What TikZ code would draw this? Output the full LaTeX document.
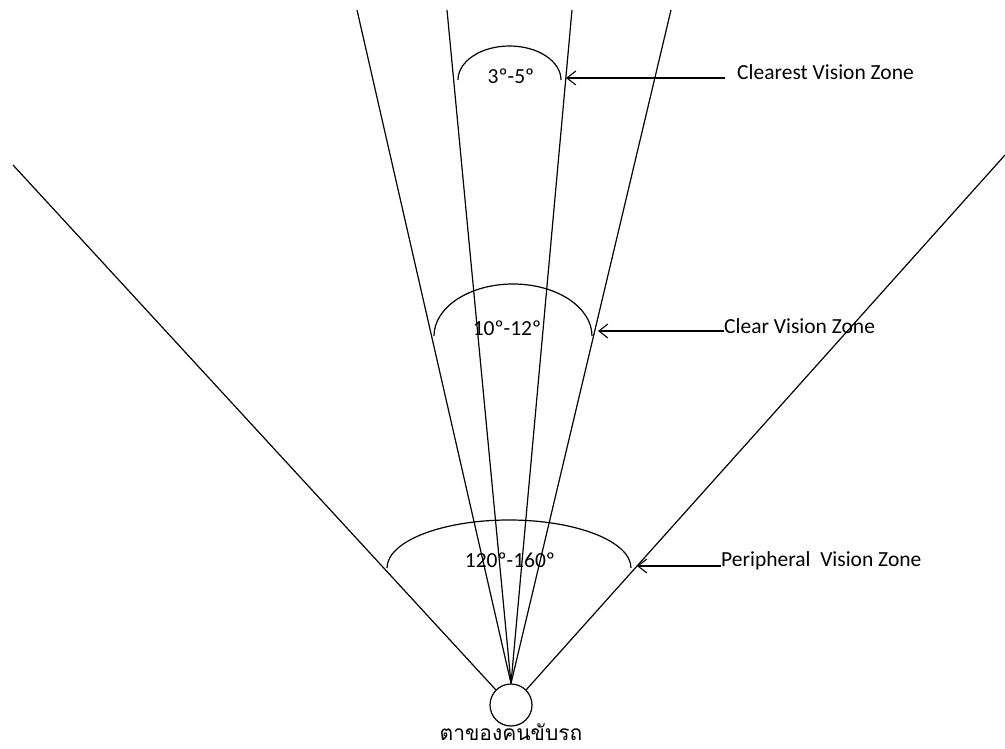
\documentclass[tikz,border=0pt]{standalone}
\usepackage{fontspec}
\setmainfont{Carlito}
\newfontfamily\thaifont[Script=Thai]{Loma}
\usetikzlibrary{arrows.meta}
\tikzset{
  ray/.style={line width=1.2pt},
  zonearc/.style={line width=1.2pt},
  pointer/.style={line width=1.1pt, -{Straight Barb[length=9pt,width=14pt,line width=1.1pt]}},
  zonetext/.style={font=\fontsize{21.5}{24}\selectfont, inner sep=0pt, anchor=west},
  angletext/.style={font=\fontsize{21.5}{24}\selectfont, inner sep=0pt},
}
\begin{document}
\begin{tikzpicture}[x=1pt,y=-1pt]
  \useasboundingbox (0,0) rectangle (1005,749);

  % the driver's eye
  \node[draw, circle, line width=1.2pt, minimum size=42pt, inner sep=0pt] (eye) at (511,705) {};
  \node[font=\thaifont\fontsize{21}{23}\selectfont, inner sep=0pt, anchor=north] (eyelabel) at (511,724) {ตาของคนขับรถ};

  % far ends of the sight lines
  \coordinate (farL) at (13,165);
  \coordinate (farR) at (1005,155);
  \coordinate (midL) at (357,10);
  \coordinate (inL) at (447,10);
  \coordinate (inR) at (572,10);
  \coordinate (midR) at (671,10);

  \draw[ray] (eye.north west) -- (farL);
  \draw[ray] (eye.north east) -- (farR);
  \draw[ray] (eye.north) -- (midL);
  \draw[ray] (eye.north) -- (inL);
  \draw[ray] (eye.north) -- (inR);
  \draw[ray] (eye.north) -- (midR);

  % angle arcs of the three zones
  \draw[zonearc] (458,80) arc[start angle=180, end angle=360, x radius=51.5, y radius=34];
  \draw[zonearc] (434,336) arc[start angle=180, end angle=360, x radius=79, y radius=52];
  \draw[zonearc] (387,568) arc[start angle=180, end angle=360, x radius=122, y radius=48];

  \node[angletext] (a1) at (511,76) {3º-5º};
  \node[angletext] (a2) at (507,328) {10º-12º};
  \node[angletext] (a3) at (510,560) {120º-160º};

  % zone labels with pointers
  \node[zonetext] (z1) at (737,72) {Clearest Vision Zone};
  \node[zonetext] (z2) at (724,326) {Clear Vision Zone};
  \node[zonetext] (z3) at (721,561) {Peripheral\ \ Vision Zone};

  \coordinate (p1) at (566,78);
  \coordinate (p2) at (598,331);
  \coordinate (p3) at (637,566);
  \draw[pointer] (725,78) -- (p1);
  \draw[pointer] (z2.west |- p2) -- (p2);
  \draw[pointer] (z3.west |- p3) -- (p3);
\end{tikzpicture}
\end{document}
